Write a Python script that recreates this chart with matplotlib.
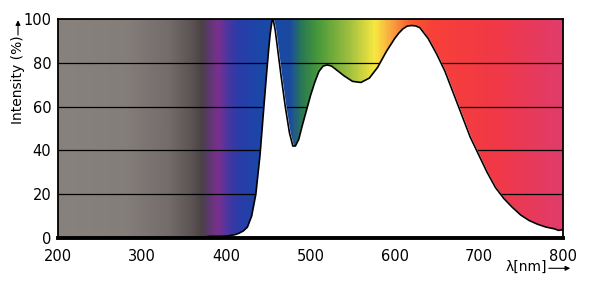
import numpy as np
import matplotlib.pyplot as plt
from matplotlib.colors import LinearSegmentedColormap

# ---------- Data ----------
wavelength = [370, 380, 390, 400, 410, 415, 420, 425, 430, 435, 440, 445, 448, 450,
              452, 454, 455, 456, 458, 461, 465, 470, 475, 479, 482, 486, 490, 495,
              500, 505, 510, 515, 520, 525, 530, 540, 550, 560, 570, 580, 590, 600,
              605, 610, 615, 620, 625, 630, 640, 650, 660, 670, 680, 690, 700, 710,
              720, 730, 740, 750, 760, 770, 780, 790, 795, 800]
intensity = [0.3, 0.8, 0.8, 0.9, 1.5, 2.2, 3.2, 5, 10, 20, 38, 62, 76, 85,
             93, 98.5, 100, 99, 95, 86, 74, 60, 48, 42, 42, 45, 51, 58,
             65, 71, 76, 78.5, 79, 78.5, 77, 74, 71.5, 71, 73, 78, 85, 91,
             93.5, 95.5, 96.7, 97, 96.8, 96, 91, 84, 76, 66, 56, 46, 38, 30,
             23, 18, 14, 10.5, 8, 6.3, 5, 4.2, 3.5, 3.8]

x_ticks = [200, 300, 400, 500, 600, 700, 800]
y_ticks = [0, 20, 40, 60, 80, 100]
grid_levels = [20, 40, 60, 80]

# background spectrum colour stops (nm, colour)
spec_nm = [200, 280, 330, 358, 370, 378, 390, 402, 414, 440, 475, 490, 510, 547, 577, 598, 618, 645, 725, 800]
spec_col = ["#87827e", "#847e7b", "#736c6a", "#5c5454", "#4a4244", "#5a3a6a", "#7a3090", "#4a36a0",
            "#2a3ca8", "#1a48a8", "#1a4aa0", "#2a7a52", "#4a9a3a", "#a0c040", "#f8e840",
            "#f8a040", "#f86030", "#f84038", "#f03848", "#e03c6c"]

# ---------- Figure ----------
fig = plt.figure(figsize=(6, 2.91), dpi=100, facecolor="white")
ax = fig.add_axes([0.097, 0.182, 0.841, 0.753])

stops = [(n - 200) / 600 for n in spec_nm]
cmap = LinearSegmentedColormap.from_list("spec", list(zip(stops, spec_col)))
grad = np.linspace(0, 1, 600).reshape(1, -1)
ax.imshow(grad, cmap=cmap, aspect="auto", extent=[200, 800, 0, 100], zorder=0)

for g in grid_levels:
    ax.axhline(g, color="black", lw=0.9, zorder=1)

ax.fill_between(wavelength, intensity, 0, color="white", zorder=2)
ax.plot(wavelength, intensity, color="black", lw=1.2, zorder=3)

ax.set_xlim(200, 800)
ax.set_ylim(0, 100)
ax.set_xticks(x_ticks)
ax.set_yticks(y_ticks)
ax.tick_params(length=0, labelsize=10.5)
ax.tick_params(axis="x", pad=8)
ax.tick_params(axis="y", pad=5)

for side in ["left", "right", "top"]:
    ax.spines[side].set_linewidth(1.3)
ax.spines["bottom"].set_linewidth(2.8)

# axis labels with arrows
fig.text(0.03, 0.725, "Intensity (%)", rotation=90, ha="center", va="center", fontsize=10)
ax.annotate("", xy=(0.03, 0.94), xytext=(0.03, 0.87), xycoords="figure fraction",
            arrowprops=dict(arrowstyle="-|>", color="black", lw=0.8, mutation_scale=7))

fig.text(0.878, 0.082, "λ[nm]", ha="center", va="center", fontsize=10)
ax.annotate("", xy=(0.955, 0.078), xytext=(0.91, 0.078), xycoords="figure fraction",
            arrowprops=dict(arrowstyle="-|>", color="black", lw=0.8, mutation_scale=7))

fig.savefig("out.png", dpi=100, facecolor="white")
